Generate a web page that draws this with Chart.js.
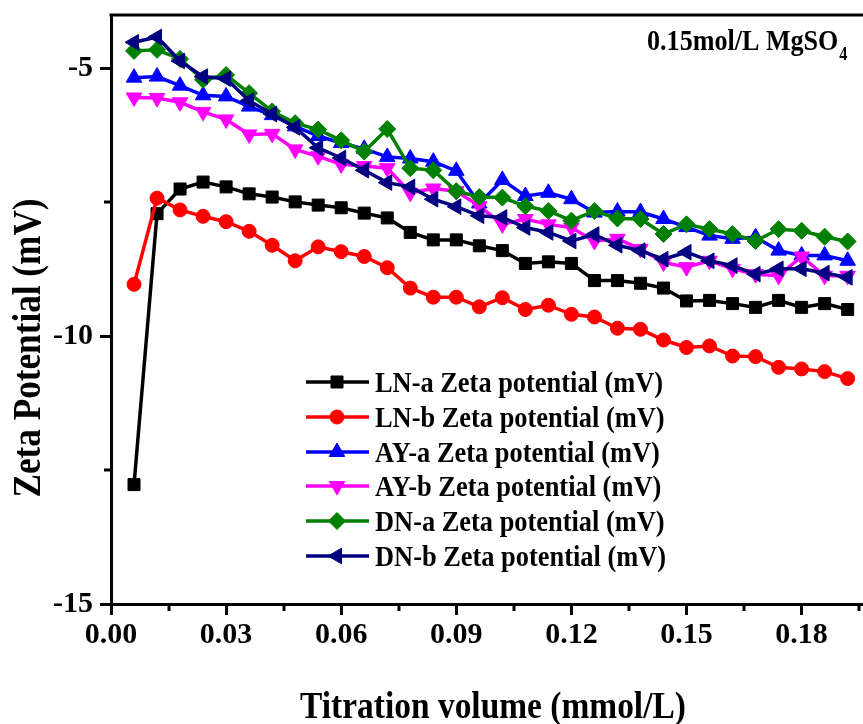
<!DOCTYPE html>
<html>
<head>
<meta charset="utf-8">
<script src="https://cdn.jsdelivr.net/npm/chart.js@4.4.1/dist/chart.umd.min.js"></script>
<style>
    html, body { margin: 0; padding: 0; background: #fff; }
</style>
</head>
<body>
<canvas id="zetaChart" width="863" height="724"></canvas>
<script>
// Zeta potential vs titration volume, 0.15 mol/L MgSO4

const volume = [0.006, 0.012, 0.018, 0.024, 0.030, 0.036, 0.042, 0.048, 0.054, 0.060, 0.066,
    0.072, 0.078, 0.084, 0.090, 0.096, 0.102, 0.108, 0.114, 0.120, 0.126, 0.132,
    0.138, 0.144, 0.150, 0.156, 0.162, 0.168, 0.174, 0.180, 0.186, 0.192];

const lnA = [-12.77, -7.71, -7.25, -7.12, -7.21, -7.34, -7.40, -7.49, -7.55, -7.60, -7.70,
    -7.79, -8.06, -8.20, -8.20, -8.31, -8.40, -8.64, -8.61, -8.64, -8.96, -8.96,
    -9.01, -9.10, -9.34, -9.33, -9.39, -9.46, -9.33, -9.46, -9.39, -9.50];
const lnB = [-9.03, -7.42, -7.64, -7.76, -7.86, -8.04, -8.30, -8.59, -8.33, -8.42, -8.51,
    -8.72, -9.10, -9.27, -9.27, -9.45, -9.28, -9.50, -9.42, -9.59, -9.64, -9.85,
    -9.87, -10.07, -10.21, -10.18, -10.37, -10.38, -10.58, -10.61, -10.66, -10.79];
const ayA = [-5.17, -5.15, -5.32, -5.50, -5.52, -5.71, -5.87, -6.08, -6.26, -6.39, -6.50,
    -6.65, -6.68, -6.74, -6.91, -7.52, -7.08, -7.38, -7.32, -7.44, -7.69, -7.67,
    -7.68, -7.81, -7.96, -8.12, -8.18, -8.15, -8.40, -8.49, -8.49, -8.59];
const ayB = [-5.54, -5.55, -5.63, -5.81, -5.95, -6.23, -6.22, -6.51, -6.64, -6.79, -6.82,
    -6.86, -7.32, -7.24, -7.29, -7.57, -7.91, -7.81, -7.91, -7.97, -8.22, -8.18,
    -8.37, -8.62, -8.71, -8.59, -8.74, -8.84, -8.87, -8.51, -8.87, -8.87];
const dnA = [-4.67, -4.65, -4.82, -5.21, -5.12, -5.46, -5.80, -6.02, -6.14, -6.34, -6.55,
    -6.13, -6.86, -6.90, -7.29, -7.40, -7.41, -7.57, -7.66, -7.84, -7.66, -7.80,
    -7.81, -8.09, -7.91, -8.00, -8.09, -8.22, -8.00, -8.03, -8.14, -8.23];
const dnB = [-4.51, -4.41, -4.86, -5.15, -5.19, -5.60, -5.85, -6.10, -6.48, -6.67, -6.90,
    -7.13, -7.21, -7.44, -7.58, -7.75, -7.78, -7.97, -8.06, -8.22, -8.10, -8.30,
    -8.40, -8.56, -8.43, -8.59, -8.68, -8.84, -8.74, -8.74, -8.82, -8.90];

const seriesNames = ['LN-a Zeta potential (mV)', 'LN-b Zeta potential (mV)', 'AY-a Zeta potential (mV)',
    'AY-b Zeta potential (mV)', 'DN-a Zeta potential (mV)', 'DN-b Zeta potential (mV)'];

const xMinorTicks = [0.015, 0.045, 0.075, 0.105, 0.135, 0.165, 0.195];
const yMinorTicks = [-7.5, -12.5];

const FONT = '"Liberation Serif", "Times New Roman", serif';
const SQUEEZE = 0.88; // text in the figure is horizontally narrow

const styles = [
    { color: '#000000', pointStyle: 'rect', rotation: 0, radius: 8.5 },
    { color: '#ff0000', pointStyle: 'circle', rotation: 0, radius: 7 },
    { color: '#0000ff', pointStyle: 'triangle', rotation: 0, radius: 9 },
    { color: '#ff00ff', pointStyle: 'triangle', rotation: 180, radius: 9 },
    { color: '#008000', pointStyle: 'rectRot', rotation: 0, radius: 8.5 },
    { color: '#000080', pointStyle: 'triangle', rotation: -90, radius: 9 }
];

const allSeries = [lnA, lnB, ayA, ayB, dnA, dnB];

const datasets = allSeries.map(function (values, i) {
    const s = styles[i];
    return {
        label: seriesNames[i],
        data: values.map(function (v, k) { return { x: volume[k], y: v }; }),
        borderColor: s.color,
        backgroundColor: s.color,
        borderWidth: 3.5,
        pointStyle: s.pointStyle,
        rotation: s.rotation,
        pointRadius: s.radius,
        pointBorderWidth: 1,
        pointBackgroundColor: s.color,
        pointBorderColor: s.color,
        tension: 0,
        order: allSeries.length - i
    };
});

// no label overflow padding, the plot area is fixed
function noPadding(scale) {
    scale.paddingTop = 0;
    scale.paddingBottom = 0;
    scale.paddingLeft = 0;
    scale.paddingRight = 0;
}

// draws the frame, minor ticks, titles, legend and the note
const decorPlugin = {
    id: 'decor',
    afterDraw: function (chart) {
        const ctx = chart.ctx;
        const area = chart.chartArea;
        const xs = chart.scales.x;
        const ys = chart.scales.y;

        ctx.save();
        ctx.strokeStyle = '#000';
        ctx.lineWidth = 3;
        ctx.beginPath();
        ctx.moveTo(area.left - 1.5, area.top);
        ctx.lineTo(area.right, area.top);
        ctx.stroke();

        // minor ticks
        xMinorTicks.forEach(function (v) {
            const px = Math.round(xs.getPixelForValue(v));
            ctx.beginPath();
            ctx.moveTo(px, area.bottom);
            ctx.lineTo(px, area.bottom + 7);
            ctx.stroke();
        });
        yMinorTicks.forEach(function (v) {
            const py = Math.round(ys.getPixelForValue(v));
            ctx.beginPath();
            ctx.moveTo(area.left, py);
            ctx.lineTo(area.left - 7, py);
            ctx.stroke();
        });

        ctx.fillStyle = '#000';

        // x title
        ctx.save();
        ctx.translate(493, 718);
        ctx.scale(SQUEEZE, 1);
        ctx.font = 'bold 38px ' + FONT;
        ctx.textAlign = 'center';
        ctx.textBaseline = 'alphabetic';
        ctx.fillText('Titration volume (mmol/L)', 0, 0);
        ctx.restore();

        // y title
        ctx.save();
        ctx.translate(40, 348);
        ctx.rotate(-Math.PI / 2);
        ctx.scale(SQUEEZE, 1);
        ctx.font = 'bold 40px ' + FONT;
        ctx.textAlign = 'center';
        ctx.textBaseline = 'alphabetic';
        ctx.fillText('Zeta Potential (mV)', 0, 0);
        ctx.restore();

        // note, top right
        ctx.save();
        ctx.translate(647, 50);
        ctx.scale(0.9, 1);
        ctx.font = 'bold 29px ' + FONT;
        ctx.textAlign = 'left';
        const note = '0.15mol/L MgSO';
        ctx.fillText(note, 0, 0);
        const w = ctx.measureText(note).width;
        ctx.font = 'bold 18px ' + FONT;
        ctx.fillText('4', w + 1, 10);
        ctx.restore();

        // legend
        const rowY = [382, 417, 452, 486, 521, 556];
        styles.forEach(function (s, i) {
            const y = rowY[i];
            ctx.strokeStyle = s.color;
            ctx.fillStyle = s.color;
            ctx.lineWidth = 3.5;
            ctx.beginPath();
            ctx.moveTo(306, y);
            ctx.lineTo(369, y);
            ctx.stroke();
            ctx.lineWidth = 1;
            Chart.helpers.drawPoint(ctx, {
                pointStyle: s.pointStyle,
                rotation: s.rotation,
                radius: s.radius,
                borderWidth: 1
            }, 337, y);

            ctx.save();
            ctx.fillStyle = '#000';
            ctx.translate(375, y + 10);
            ctx.scale(SQUEEZE, 1);
            ctx.font = 'bold 30px ' + FONT;
            ctx.textAlign = 'left';
            ctx.textBaseline = 'alphabetic';
            ctx.fillText(seriesNames[i], 0, 0);
            ctx.restore();
        });

        ctx.restore();
    }
};

new Chart(document.getElementById('zetaChart'), {
    type: 'line',
    data: { datasets: datasets },
    options: {
        responsive: false,
        animation: false,
        devicePixelRatio: 1,
        layout: {
            autoPadding: false,
            padding: { top: 15, right: 0, left: 0, bottom: 0 }
        },
        plugins: {
            legend: { display: false },
            tooltip: { enabled: false }
        },
        scales: {
            x: {
                type: 'linear',
                min: 0,
                max: 0.196,
                afterFit: function (scale) { scale.height = 120; noPadding(scale); },
                border: { display: true, width: 3, color: '#000' },
                grid: {
                    display: true,
                    drawOnChartArea: false,
                    drawTicks: true,
                    tickLength: 11,
                    tickWidth: 3,
                    tickColor: '#000'
                },
                ticks: {
                    stepSize: 0.03,
                    includeBounds: false,
                    autoSkip: false,
                    maxRotation: 0,
                    padding: 2,
                    color: '#000',
                    font: { family: FONT, size: 30, weight: 'bold' },
                    callback: function (v) { return v.toFixed(2); }
                }
            },
            y: {
                min: -15,
                max: -4,
                afterFit: function (scale) { scale.width = 111; noPadding(scale); },
                border: { display: true, width: 3, color: '#000' },
                grid: {
                    display: true,
                    drawOnChartArea: false,
                    drawTicks: true,
                    tickLength: 11,
                    tickWidth: 3,
                    tickColor: '#000'
                },
                ticks: {
                    stepSize: 5,
                    includeBounds: false,
                    padding: 7,
                    color: '#000',
                    font: { family: FONT, size: 30, weight: 'bold' }
                }
            }
        }
    },
    plugins: [decorPlugin]
});
</script>
</body>
</html>
